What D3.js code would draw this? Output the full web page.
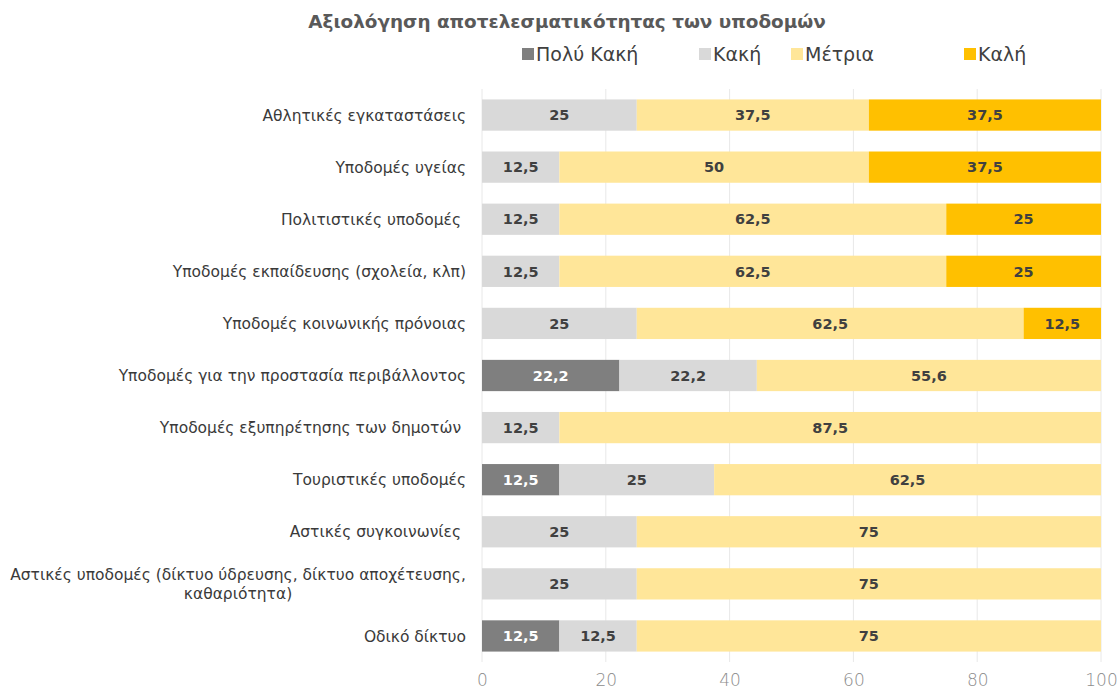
<!DOCTYPE html>
<html>
<head>
<meta charset="utf-8">
<script src="https://cdn.jsdelivr.net/npm/d3@7"></script>
<style>
  html, body { margin: 0; padding: 0; background: #fff; }
  svg { display: block; font-family: "DejaVu Sans", sans-serif; }
</style>
</head>
<body>
<svg id="chart" width="1117" height="692"></svg>
<script>
// Survey: rating of infrastructure effectiveness (% of answers)
const categories = [
  "Αθλητικές εγκαταστάσεις",
  "Υποδομές υγείας",
  "Πολιτιστικές υποδομές ",
  "Υποδομές εκπαίδευσης (σχολεία, κλπ)",
  "Υποδομές κοινωνικής πρόνοιας",
  "Υποδομές για την προστασία περιβάλλοντος",
  "Υποδομές εξυπηρέτησης των δημοτών ",
  "Τουριστικές υποδομές",
  "Αστικές συγκοινωνίες ",
  "Αστικές υποδομές (δίκτυο ύδρευσης, δίκτυο αποχέτευσης,|καθαριότητα)",
  "Οδικό δίκτυο"
];
const seriesNames = ["Πολύ Κακή", "Κακή", "Μέτρια", "Καλή"];
const veryBad  = [0, 0, 0, 0, 0, 22.2, 0, 12.5, 0, 0, 12.5];
const bad      = [25, 12.5, 12.5, 12.5, 25, 22.2, 12.5, 25, 25, 25, 12.5];
const moderate = [37.5, 50, 62.5, 62.5, 62.5, 55.6, 87.5, 62.5, 75, 75, 75];
const good     = [37.5, 37.5, 25, 25, 12.5, 0, 0, 0, 0, 0, 0];
const xTicks = [0, 20, 40, 60, 80, 100];
const chartTitle = "Αξιολόγηση αποτελεσματικότητας των υποδομών";

const colors = ["#7f7f7f", "#d9d9d9", "#ffe699", "#ffc000"];
const labelColors = ["#ffffff", "#404040", "#404040", "#404040"];

const rows = categories.map((c, i) => ({
  cat: c, [seriesNames[0]]: veryBad[i], [seriesNames[1]]: bad[i],
  [seriesNames[2]]: moderate[i], [seriesNames[3]]: good[i]
}));
const stacked = d3.stack().keys(seriesNames)(rows);

const svg = d3.select("#chart");
const margin = { left: 482, right: 16, top: 89, bottom: 40 };
const W = 1117, H = 692;

const x = d3.scaleLinear().domain([0, 100]).range([margin.left, W - margin.right]);
const y = d3.scaleBand().domain(categories).range([margin.top, 662]).paddingInner(0.4).paddingOuter(0.2);

// gridlines
svg.append("g").selectAll("line").data(xTicks).join("line")
  .attr("x1", d => x(d)).attr("x2", d => x(d))
  .attr("y1", margin.top).attr("y2", 662)
  .attr("stroke", "#e8e8e8").attr("stroke-width", 1);

// x axis labels
const xAxis = d3.axisBottom(x).tickValues(xTicks).tickSize(0).tickPadding(0);
const gx = svg.append("g").attr("transform", "translate(0,671)").call(xAxis);
gx.select(".domain").remove();
gx.selectAll("text")
  .attr("dy", "0.9em")
  .style("font-family", "'DejaVu Sans', sans-serif")
  .style("font-weight", 200)
  .style("font-size", "17px")
  .attr("fill", "#8c8c8c");

// bars
const layers = svg.append("g").selectAll("g").data(stacked).join("g")
  .attr("fill", (d, i) => colors[i]);
layers.selectAll("rect").data(d => d).join("rect")
  .attr("x", d => x(d[0]))
  .attr("width", d => x(d[1]) - x(d[0]))
  .attr("y", d => y(d.data.cat))
  .attr("height", y.bandwidth());

// value labels
stacked.forEach((layer, si) => {
  svg.append("g").selectAll("text").data(layer.filter(d => d[1] - d[0] > 0)).join("text")
    .attr("x", d => (x(d[0]) + x(d[1])) / 2)
    .attr("y", d => y(d.data.cat) + y.bandwidth() / 2)
    .attr("dy", "0.36em")
    .attr("text-anchor", "middle")
    .attr("font-size", "14.5px")
    .attr("font-weight", "bold")
    .attr("fill", labelColors[si])
    .text(d => String(+(d[1] - d[0]).toFixed(1)).replace(".", ","));
});

// category labels
const yl = svg.append("g");
categories.forEach(c => {
  const lines = c.split("|");
  const cy = y(c) + y.bandwidth() / 2;
  if (lines.length === 1) {
    yl.append("text").attr("x", 466).attr("y", cy).attr("dy", "0.36em")
      .attr("text-anchor", "end").style("white-space", "pre")
      .attr("font-size", "15.5px").attr("fill", "#3a3a3a").text(lines[0]);
  } else {
    const t = yl.append("text").attr("font-size", "15.5px").attr("fill", "#3a3a3a")
      .attr("text-anchor", "middle");
    lines.forEach((ln, k) => {
      t.append("tspan").attr("x", 238).attr("y", cy + (k - 0.5) * 19).attr("dy", "0.36em").text(ln);
    });
  }
});

// title
svg.append("text").attr("x", 567).attr("y", 21).attr("dy", "0.36em")
  .attr("text-anchor", "middle").attr("font-size", "18.4px").attr("font-weight", "bold")
  .attr("fill", "#595959").text(chartTitle);

// legend
const legendX = [522, 699, 791, 964];
const lg = svg.append("g");
seriesNames.forEach((n, i) => {
  lg.append("rect").attr("x", legendX[i]).attr("y", 48).attr("width", 12).attr("height", 12)
    .attr("fill", colors[i]);
  lg.append("text").attr("x", legendX[i] + 14).attr("y", 54).attr("dy", "0.36em")
    .attr("font-size", "19px").attr("fill", "#404040").text(n);
});
</script>
</body>
</html>
